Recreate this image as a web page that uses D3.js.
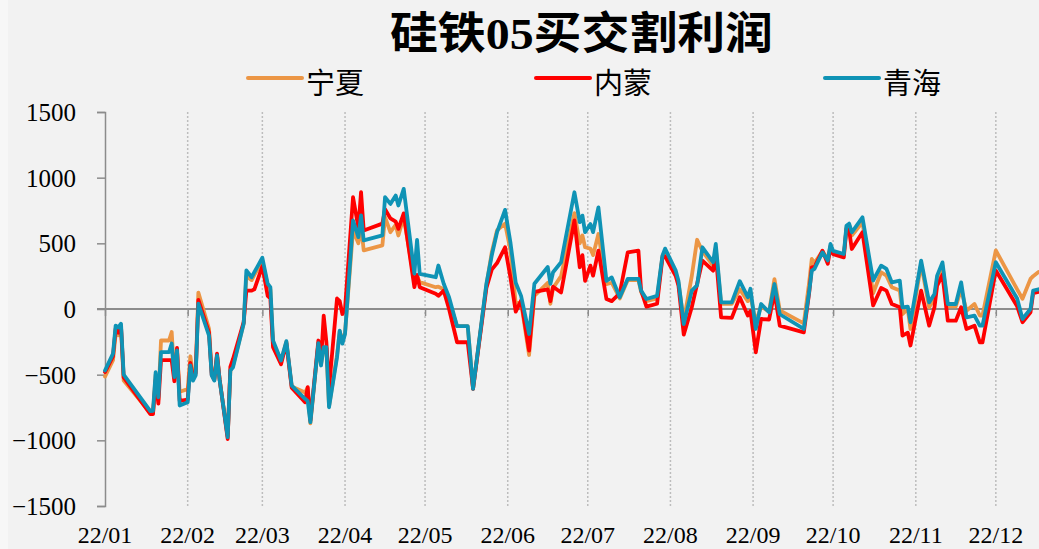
<!DOCTYPE html>
<html>
<head>
<meta charset="utf-8">
<script src="https://cdn.jsdelivr.net/npm/d3@7/dist/d3.min.js"></script>
<style>
  html, body { margin: 0; padding: 0; background: #f2f2f2; }
  svg { display: block; }
</style>
</head>
<body>
<svg id="chart" width="1039" height="549"></svg>
<script>
// 硅铁05买交割利润 (元/吨), 2022
const title = "硅铁05买交割利润";
const seriesNames = ["宁夏", "内蒙", "青海"];
const seriesColors = ["#EC9645", "#FF0000", "#0F93B5"];
const monthLabels = ["22/01","22/02","22/03","22/04","22/05","22/06","22/07","22/08","22/09","22/10","22/11","22/12"];
const yTicks = [-1500, -1000, -500, 0, 500, 1000, 1500];

const dates = [
  "2022-01-01","2022-01-04","2022-01-05","2022-01-06","2022-01-07","2022-01-08","2022-01-18","2022-01-19","2022-01-20","2022-01-21",
  "2022-01-22","2022-01-25","2022-01-26","2022-01-27","2022-01-28","2022-01-29","2022-02-01","2022-02-02","2022-02-03","2022-02-04",
  "2022-02-05","2022-02-09","2022-02-10","2022-02-11","2022-02-12","2022-02-13","2022-02-16","2022-02-17","2022-02-18","2022-02-22",
  "2022-02-23","2022-02-25","2022-02-26","2022-03-01","2022-03-03","2022-03-04","2022-03-05","2022-03-08","2022-03-10","2022-03-12",
  "2022-03-17","2022-03-18","2022-03-19","2022-03-22","2022-03-23","2022-03-24","2022-03-25","2022-03-26","2022-03-29","2022-03-30",
  "2022-03-31","2022-04-01","2022-04-04","2022-04-06","2022-04-07","2022-04-08","2022-04-15","2022-04-16","2022-04-18","2022-04-20",
  "2022-04-21","2022-04-23","2022-04-27","2022-04-28","2022-04-29","2022-05-05","2022-05-06","2022-05-08","2022-05-10","2022-05-13",
  "2022-05-17","2022-05-19","2022-05-24","2022-05-26","2022-05-28","2022-05-31","2022-06-02","2022-06-04","2022-06-06","2022-06-09",
  "2022-06-11","2022-06-16","2022-06-17","2022-06-18","2022-06-21","2022-06-26","2022-06-28","2022-06-29","2022-06-30","2022-07-02",
  "2022-07-03","2022-07-05","2022-07-08","2022-07-10","2022-07-13","2022-07-16","2022-07-20","2022-07-21","2022-07-23","2022-07-27",
  "2022-07-29","2022-07-30","2022-08-03","2022-08-04","2022-08-06","2022-08-09","2022-08-11","2022-08-13","2022-08-17","2022-08-18",
  "2022-08-20","2022-08-24","2022-08-27","2022-08-30","2022-08-31","2022-09-02","2022-09-04","2022-09-07","2022-09-09","2022-09-11",
  "2022-09-20","2022-09-22","2022-09-23","2022-09-24","2022-09-27","2022-09-29","2022-09-30","2022-10-01","2022-10-05","2022-10-06",
  "2022-10-07","2022-10-08","2022-10-12","2022-10-16","2022-10-19","2022-10-21","2022-10-23","2022-10-26","2022-10-27","2022-10-29",
  "2022-10-30","2022-11-03","2022-11-06","2022-11-08","2022-11-09","2022-11-11","2022-11-13","2022-11-16","2022-11-18","2022-11-20",
  "2022-11-23","2022-11-25","2022-11-26","2022-12-01","2022-12-09","2022-12-11","2022-12-14","2022-12-15","2022-12-17"
];

// 宁夏
const ningxia = [
  -515,-390,-190,-200,-150,-545,-790,-795,-500,-690,
  -240,-240,-175,-520,-320,-630,-610,-360,-500,-480,
  125,-150,-480,-530,-350,-540,-970,-470,-430,-110,
  250,220,260,360,180,150,-270,-400,-250,-590,
  -636,-600,-870,-260,-420,-290,-300,-740,-350,-170,
  -250,-180,600,500,640,446,484,700,585,640,
  560,700,210,250,205,166,170,150,60,-131,
  -131,-608,180,430,600,650,450,40,50,-350,
  100,200,40,160,250,730,500,560,470,460,
  410,571,190,200,80,220,220,130,60,80,
  400,440,270,200,-90,250,527,440,330,460,
  40,40,150,60,100,-100,20,-20,228,-10,
  -110,200,381,350,440,380,480,430,410,620,
  640,560,660,120,280,254,165,140,-40,0,
  -152,343,13,80,230,330,20,20,150,-13,
  38,-50,-50,446,150,78,229,250,282
];

// 内蒙
const neimeng = [
  -480,-360,-150,-180,-130,-520,-800,-800,-540,-720,
  -390,-390,-390,-550,-296,-700,-690,-410,-520,-490,
  70,-180,-500,-540,-340,-540,-990,-440,-380,-100,
  140,140,150,325,100,80,-290,-420,-260,-600,
  -710,-595,-850,-240,-400,-50,-250,-600,80,60,
  -38,0,851,620,889,598,650,759,690,665,
  610,728,166,260,166,116,100,140,0,-253,
  -253,-608,160,300,350,470,242,-20,65,-316,
  130,150,60,170,126,674,318,410,215,330,
  254,444,76,60,120,432,444,141,18,40,
  390,400,250,180,-195,13,190,368,292,419,
  -63,-68,90,-50,-15,-330,-76,-80,127,-127,
  -178,120,317,320,444,345,470,418,393,610,
  600,457,584,27,160,140,38,13,-203,-180,
  -278,140,-127,13,178,260,-89,-89,13,-152,
  -127,-254,-254,293,20,-101,-25,120,130
];

// 青海
const qinghai = [
  -468,-340,-126,-140,-112,-500,-778,-775,-481,-672,
  -329,-329,-263,-519,-316,-735,-710,-430,-545,-506,
  40,-202,-506,-545,-354,-545,-976,-468,-443,-110,
  293,242,280,390,192,166,-240,-392,-245,-583,
  -684,-700,-862,-260,-430,-290,-290,-748,-367,-164,
  -264,-190,674,547,712,522,560,851,800,864,
  788,915,270,527,268,242,331,192,90,-131,
  -131,-608,192,407,585,755,508,200,100,-190,
  192,320,192,280,356,889,661,711,585,647,
  585,774,215,240,90,230,230,140,76,100,
  406,460,292,215,-115,140,180,470,356,495,
  51,51,212,90,154,-152,38,-25,190,-40,
  -152,130,292,305,431,370,495,443,419,634,
  650,584,698,217,330,305,203,216,13,18,
  -101,368,50,114,254,355,38,38,203,-63,
  -50,-127,-127,356,80,-76,0,141,150
];

const svg = d3.select("#chart");
const W = 1039, H = 549;

svg.append("rect").attr("width", W).attr("height", H).attr("fill", "#f2f2f2");
svg.append("rect").attr("width", 8).attr("height", H).attr("fill", "#f7f7f7");

const parse = d3.utcParse("%Y-%m-%d");
const x = d3.scaleUtc()
  .domain([Date.UTC(2022, 0, 1), Date.UTC(2023, 0, 1)])
  .range([105, 1078.5]);
const y = d3.scaleLinear().domain([-1500, 1500]).range([506, 112]);

const monthStarts = d3.utcMonths(Date.UTC(2022, 0, 1), Date.UTC(2023, 0, 1));

// dotted month gridlines
svg.append("g")
  .selectAll("line")
  .data(monthStarts.slice(1))
  .join("line")
  .attr("x1", d => x(d)).attr("x2", d => x(d))
  .attr("y1", y(1500)).attr("y2", y(-1500))
  .attr("stroke", "#bdbdbd")
  .attr("stroke-width", 1.5)
  .attr("stroke-dasharray", "2,2");

// y axis
const yAxis = d3.axisLeft(y).tickValues(yTicks).tickSize(8).tickFormat(d3.format("d"));
const gy = svg.append("g").attr("transform", "translate(105,0)").call(yAxis);
gy.select(".domain").attr("stroke", "#8c8c8c").attr("stroke-width", 1.5);
gy.selectAll(".tick line").attr("stroke", "#8c8c8c").attr("stroke-width", 1.5);
gy.selectAll(".tick text")
  .attr("x", -29)
  .attr("dy", "0.34em")
  .attr("fill", "#000")
  .style("font-family", "'Liberation Serif', 'Times New Roman', serif")
  .style("font-size", "25px");

// x axis on the zero line, labels placed along the bottom
const xAxis = d3.axisBottom(x).tickValues(monthStarts).tickSize(7).tickFormat("");
const gx = svg.append("g").attr("transform", `translate(0,${y(0)})`).call(xAxis);
gx.select(".domain").attr("d", `M${97},0H${W + 60}`).attr("stroke", "#8c8c8c").attr("stroke-width", 2);
gx.selectAll(".tick line").attr("stroke", "#8c8c8c").attr("stroke-width", 1.5);

svg.append("g")
  .selectAll("text")
  .data(monthStarts)
  .join("text")
  .attr("x", d => x(d))
  .attr("y", 543)
  .attr("text-anchor", "middle")
  .style("font-family", "'Liberation Serif', 'Times New Roman', serif")
  .style("font-size", "24px")
  .attr("fill", "#000")
  .text((d, i) => monthLabels[i]);

// series lines
const points = dates.map(parse);
const line = d3.line()
  .x((d, i) => x(points[i]))
  .y(d => y(d));

const allSeries = [ningxia, neimeng, qinghai];
svg.append("g")
  .selectAll("path")
  .data(allSeries)
  .join("path")
  .attr("d", d => line(d))
  .attr("fill", "none")
  .attr("stroke", (d, i) => seriesColors[i])
  .attr("stroke-width", 3.8)
  .attr("stroke-linejoin", "round")
  .attr("stroke-linecap", "round");

// title
svg.append("text")
  .attr("x", 390)
  .attr("y", 49)
  .attr("textLength", 383)
  .attr("lengthAdjust", "spacingAndGlyphs")
  .style("font-family", "'Liberation Serif', 'Noto Sans CJK SC', serif")
  .style("font-size", "44px")
  .style("font-weight", "bold")
  .attr("fill", "#000")
  .text(title);

// legend
const legendX = [248, 536, 825];
const lg = svg.append("g");
seriesNames.forEach((name, i) => {
  lg.append("line")
    .attr("x1", legendX[i]).attr("x2", legendX[i] + 54)
    .attr("y1", 78).attr("y2", 78)
    .attr("stroke", seriesColors[i])
    .attr("stroke-width", 4)
    .attr("stroke-linecap", "round");
  lg.append("text")
    .attr("x", legendX[i] + 58)
    .attr("y", 94)
    .style("font-family", "'Noto Sans CJK SC', sans-serif")
    .style("font-size", "29px")
    .attr("fill", "#000")
    .text(name);
});
</script>
</body>
</html>
